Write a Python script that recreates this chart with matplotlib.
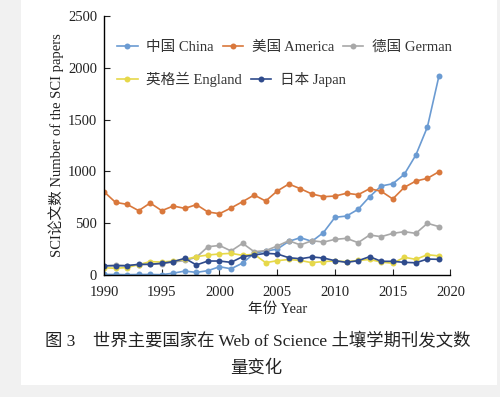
import matplotlib
matplotlib.use("Agg")
import matplotlib.pyplot as plt
from matplotlib.patches import Rectangle

plt.rcParams["font.family"] = ["Liberation Serif", "Noto Sans CJK SC"]

years = list(range(1990, 2020))
china = [5, 5, 3, 5, 5, 3, 18, 38, 25, 42, 80, 60, 115, 210, 230, 250,
         325, 360, 325, 410, 557, 569, 634, 756, 859, 881, 972, 1158, 1429, 1921]
america = [804, 701, 682, 621, 695, 621, 666, 643, 679, 608, 592, 647, 708, 772, 714, 811,
           878, 833, 782, 756, 762, 789, 775, 833, 808, 734, 846, 907, 933, 997]
german = [85, 95, 90, 100, 105, 110, 125, 140, 171, 273, 285, 232, 306, 225, 235, 280,
          331, 290, 331, 318, 344, 354, 312, 386, 370, 402, 418, 402, 499, 467]
england = [70, 65, 72, 100, 129, 125, 135, 150, 177, 193, 203, 209, 190, 200, 119, 138,
           150, 140, 119, 130, 135, 130, 140, 150, 125, 113, 171, 151, 196, 184]
japan = [90, 90, 90, 103, 103, 113, 129, 161, 97, 135, 135, 122, 177, 193, 209, 203,
         167, 157, 174, 164, 138, 122, 138, 177, 132, 132, 122, 118, 154, 151]

series = [
    ("中国 China", china, "#6b9bd2"),
    ("美国 America", america, "#d9783c"),
    ("德国 German", german, "#a8a8a8"),
    ("英格兰 England", england, "#e6d84a"),
    ("日本 Japan", japan, "#2f4b8c"),
]

fig = plt.figure(figsize=(5.0, 3.97), dpi=100, facecolor="#f1f1f1")
fig.add_artist(Rectangle((0.042, 0.03), 0.952, 0.97, transform=fig.transFigure,
                         facecolor="white", edgecolor="none", zorder=-10))

ax = fig.add_axes([0.208, 0.3073, 0.693, 0.6524])
ax.set_facecolor("none")

handles = {}
for name, vals, color in series:
    (ln,) = ax.plot(years, vals, color=color, lw=1.2, marker="o", markersize=4.3,
                    markeredgewidth=0, label=name)
    handles[name] = ln

ax.set_xlim(1990, 2020)
ax.set_ylim(0, 2500)
ax.set_xticks(range(1990, 2021, 5))
ax.set_yticks(range(0, 2501, 500))
ax.spines[["top", "right"]].set_visible(False)
ax.spines[["left", "bottom"]].set_linewidth(1.0)
ax.tick_params(direction="in", length=4, labelsize=10.5, colors="#222222")
ax.tick_params(axis="x", pad=8)
ax.tick_params(axis="y", pad=5)
ax.set_xlabel("年份 Year", fontsize=10.5, color="#222222", labelpad=2)
ax.set_ylabel("SCI论文数 Number of the SCI papers", fontsize=10.5, color="#222222", labelpad=3)

names = [s[0] for s in series]
leg_kw = dict(loc="upper left", frameon=False, fontsize=10.5, handlelength=1.4,
              columnspacing=0.6, handletextpad=0.6, labelcolor="#333333",
              borderaxespad=0.5)
leg1 = ax.legend([handles[n] for n in names[:3]], names[:3], ncol=3,
                 bbox_to_anchor=(0.0, 0.955), **leg_kw)
ax.add_artist(leg1)
ax.legend([handles[n] for n in names[3:]], names[3:], ncol=2,
          bbox_to_anchor=(0.0, 0.835), **leg_kw)

fig.text(0.09, 0.138, "图 3    世界主要国家在 Web of Science 土壤学期刊发文数",
         fontsize=12.5, color="#222222", ha="left", va="center")
fig.text(0.512, 0.073, "量变化", fontsize=12.5, color="#222222", ha="center", va="center")

fig.savefig("out.png", dpi=100, facecolor=fig.get_facecolor())
